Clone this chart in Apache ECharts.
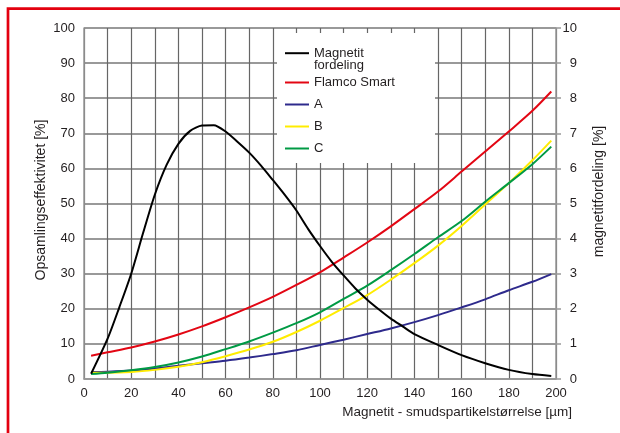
<!DOCTYPE html>
<html><head><meta charset="utf-8">
<script src="https://cdn.jsdelivr.net/npm/echarts@6/dist/echarts.min.js"></script>
<style>html,body{margin:0;padding:0;background:#fff}#c{width:620px;height:433px}</style>
</head><body><div id="c"></div>
<script>
// particle size (µm) for the magnetite distribution curve
const distX = [3,10,15,20,25,30,35,40,45,50,55,60,65,70,75,80,85,90,95,100,105,110,115,120,125,130,135,140,150,160,170,180,190,198];
// magnetite distribution [%] (right axis)
const magnetitDist = [0.15,1.15,2.05,3.0,4.15,5.25,6.1,6.7,7.07,7.22,7.23,7.05,6.76,6.45,6.08,5.67,5.25,4.8,4.27,3.79,3.34,2.95,2.58,2.26,1.98,1.72,1.5,1.28,0.97,0.68,0.45,0.26,0.14,0.085];
// particle size (µm) for the efficiency curves
const effX = [3,10,20,30,40,50,60,70,80,90,100,110,120,130,140,150,160,170,180,190,198];
// collection efficiency [%] (left axis)
const flamcoSmart = [6.6,7.6,9.0,10.7,12.7,15.0,17.6,20.4,23.4,26.8,30.4,34.6,38.9,43.5,48.4,53.4,59.1,64.8,70.5,76.4,81.9];
const seriesA = [2.0,2.1,2.4,3.0,3.8,4.5,5.2,6.1,7.1,8.2,9.7,11.2,12.8,14.4,16.2,18.2,20.4,22.7,25.3,27.7,29.9];
const seriesB = [1.8,1.8,2.0,2.6,3.5,4.8,6.5,8.4,10.6,13.4,16.6,20.2,23.9,28.3,33.0,38.0,43.6,49.7,55.8,62.3,67.9];
const seriesC = [1.4,1.8,2.5,3.4,4.7,6.4,8.5,10.7,13.2,15.9,19.0,22.8,26.6,31.0,35.6,40.4,45.0,50.5,55.8,61.2,66.2];

const names = ['Magnetit\nfordeling','Flamco Smart','A','B','C'];
const xAxisName = 'Magnetit - smudspartikelstørrelse [µm]';
const yLeftName = 'Opsamlingseffektivitet [%]';
const yRightName = 'magnetitfordeling [%]';

const pair = (xs, ys) => xs.map((x, i) => [x, ys[i]]);
const FONT = 'Liberation Sans, Arial, Helvetica, sans-serif';
const TXT = '#231f20';

const chart = echarts.init(document.getElementById('c'), null, {renderer: 'canvas'});
chart.setOption({
  animation: false,
  backgroundColor: '#fff',
  textStyle: {fontFamily: FONT},
  grid: {left: 84, right: 64, top: 28, bottom: 54},
  graphic: [
    {type: 'rect', z: 1, shape: {x: 277, y: 33, width: 158, height: 130}, style: {fill: '#fff'}},
    {type: 'rect', z: 10, shape: {x: 8, y: 8.6, width: 800, height: 600}, style: {fill: 'none', stroke: '#e3000f', lineWidth: 2.7}}
  ],
  legend: [
    {
      data: [names[0]],
      formatter: (n) => '\n' + n,
      left: 285, top: 34.7, padding: 0, itemWidth: 24, itemHeight: 2, icon: 'rect',
      textStyle: {fontSize: 13, lineHeight: 12, color: TXT, fontFamily: FONT}
    },
    {
      data: names.slice(1),
      orient: 'vertical', left: 285, top: 76, padding: 0, itemGap: 9, itemWidth: 24, itemHeight: 2, icon: 'rect',
      textStyle: {fontSize: 13, color: TXT, fontFamily: FONT}
    }
  ],
  xAxis: {
    type: 'value', min: 0, max: 200, interval: 20,
    axisLine: {show: true, lineStyle: {color: '#999', width: 1.5}},
    axisTick: {show: false},
    axisLabel: {margin: 8, fontSize: 13, color: TXT, fontFamily: FONT},
    splitLine: {show: true, lineStyle: {color: '#666', width: 1.2}},
    minorTick: {show: false, splitNumber: 2},
    minorSplitLine: {show: true, lineStyle: {color: '#666', width: 1.2}},
    name: xAxisName, nameLocation: 'end', nameGap: 16, nameMoveOverlap: false,
    nameTextStyle: {align: 'right', verticalAlign: 'top', padding: [26, 0, 0, 0], fontSize: 13.5, color: TXT, fontFamily: FONT}
  },
  yAxis: [
    {
      type: 'value', min: 0, max: 100, interval: 10,
      axisLine: {show: true, lineStyle: {color: '#999', width: 1.5}},
      axisTick: {show: false},
      axisLabel: {margin: 9, fontSize: 13, color: TXT, fontFamily: FONT},
      splitLine: {show: true, lineStyle: {color: '#999', width: 2}},
      name: yLeftName, nameLocation: 'middle', nameGap: 36, nameMoveOverlap: false,
      nameTextStyle: {fontSize: 14, color: TXT, fontFamily: FONT, padding: [0, 0, 0, 7]}
    },
    {
      type: 'value', min: 0, max: 10, interval: 1, position: 'right',
      axisLine: {show: true, lineStyle: {color: '#999', width: 1.5}},
      axisTick: {show: true, length: 5, lineStyle: {color: '#999', width: 1.5}},
      axisLabel: {margin: 21, align: 'right', fontSize: 13, color: TXT, fontFamily: FONT},
      splitLine: {show: false},
      name: yRightName, nameLocation: 'middle', nameGap: 36, nameMoveOverlap: false,
      nameTextStyle: {fontSize: 14, color: TXT, fontFamily: FONT, padding: [0, 0, 0, 24]}
    }
  ],
  series: [
    {name: names[0], type: 'line', yAxisIndex: 1, data: pair(distX, magnetitDist), smooth: 0.25, symbol: 'none',
     lineStyle: {color: '#000', width: 2}, itemStyle: {color: '#000'}, z: 5},
    {name: names[1], type: 'line', data: pair(effX, flamcoSmart), smooth: 0.3, symbol: 'none',
     lineStyle: {color: '#e30613', width: 2}, itemStyle: {color: '#e30613'}},
    {name: names[2], type: 'line', data: pair(effX, seriesA), smooth: 0.3, symbol: 'none',
     lineStyle: {color: '#2e2a8c', width: 2}, itemStyle: {color: '#2e2a8c'}},
    {name: names[3], type: 'line', data: pair(effX, seriesB), smooth: 0.3, symbol: 'none',
     lineStyle: {color: '#ffec00', width: 2}, itemStyle: {color: '#ffec00'}},
    {name: names[4], type: 'line', data: pair(effX, seriesC), smooth: 0.3, symbol: 'none',
     lineStyle: {color: '#009a44', width: 2}, itemStyle: {color: '#009a44'}}
  ]
});
</script>
</body></html>
